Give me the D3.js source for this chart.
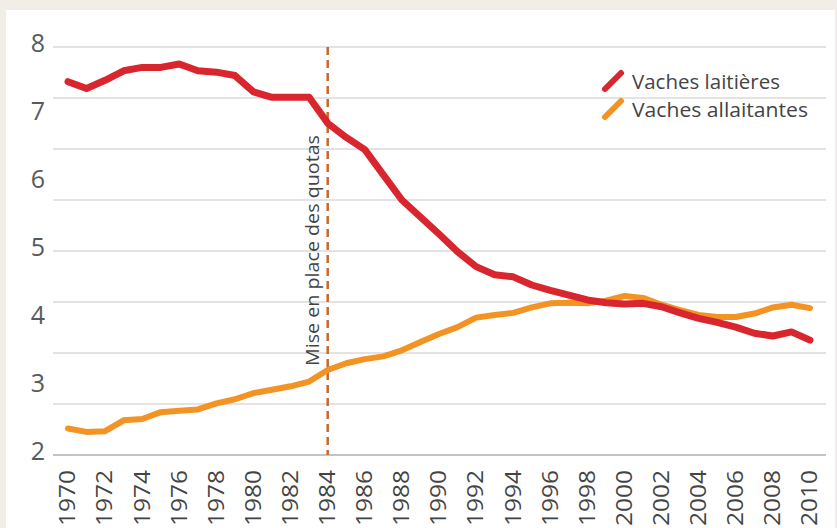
<!DOCTYPE html>
<html>
<head>
<meta charset="utf-8">
<script src="https://cdn.jsdelivr.net/npm/d3@7"></script>
<style>
  body { margin: 0; background: #f2eee7; }
  svg text { font-family: "Open Sans", "DejaVu Sans", sans-serif; }
</style>
</head>
<body>
<svg id="chart" width="837" height="528"></svg>
<script>
// data (millions of cows)
const years = d3.range(1970, 2011);
const laitieres = [7.49, 7.39, 7.51, 7.65, 7.70, 7.70, 7.75, 7.65, 7.63, 7.58,
  7.34, 7.26, 7.26, 7.26, 6.88, 6.67, 6.49, 6.12, 5.75, 5.50,
  5.25, 4.99, 4.77, 4.65, 4.62, 4.50, 4.42, 4.35, 4.28, 4.24,
  4.22, 4.23, 4.18, 4.09, 4.01, 3.95, 3.88, 3.79, 3.75, 3.81, 3.69];
const allaitantes = [2.39, 2.34, 2.35, 2.51, 2.53, 2.63, 2.65, 2.67, 2.76, 2.82,
  2.91, 2.96, 3.01, 3.08, 3.25, 3.35, 3.41, 3.45, 3.54, 3.66,
  3.78, 3.88, 4.02, 4.06, 4.09, 4.17, 4.23, 4.24, 4.23, 4.27,
  4.34, 4.31, 4.21, 4.13, 4.06, 4.03, 4.03, 4.08, 4.17, 4.21, 4.16];
const yLabels = [2, 3, 4, 5, 6, 7, 8];
const gridValues = [2, 2.75, 3.5, 4.25, 5, 5.75, 6.5, 7.25, 8];
const xTicks = d3.range(1970, 2011, 2);
const quotaYear = 1984;
const series = [
  { name: "Vaches laitières", values: laitieres, color: "#d9262e", width: 7 },
  { name: "Vaches allaitantes", values: allaitantes, color: "#f39324", width: 6 }
];

const svg = d3.select("#chart");

// white panel
svg.append("rect")
  .attr("x", 6).attr("y", 10)
  .attr("width", 829).attr("height", 520)
  .attr("fill", "#fff");

const x = d3.scaleLinear().domain([1970, 2010]).range([68, 810]);
const y = d3.scaleLinear().domain([2, 8]).range([455, 47]);

// gridlines
svg.append("g")
  .selectAll("line")
  .data(gridValues)
  .enter().append("line")
  .attr("x1", 53).attr("x2", 826)
  .attr("y1", d => y(d)).attr("y2", d => y(d))
  .attr("stroke", d => d === 2 ? "#888" : "#c8c8c8")
  .attr("stroke-width", 1.2);

// y labels
svg.append("g")
  .selectAll("text")
  .data(yLabels)
  .enter().append("text")
  .attr("x", 38)
  .attr("y", d => y(d) - 4)
  .attr("dy", "0.35em")
  .attr("text-anchor", "middle")
  .attr("font-size", 25)
  .attr("fill", "#5a5a5a")
  .text(d => d);

// x labels, rotated
svg.append("g")
  .selectAll("text")
  .data(xTicks)
  .enter().append("text")
  .attr("transform", d => "translate(" + x(d) + ",470) rotate(-90)")
  .attr("dy", "0.35em")
  .attr("text-anchor", "end")
  .attr("font-size", 21)
  .attr("textLength", 56)
  .attr("lengthAdjust", "spacingAndGlyphs")
  .attr("fill", "#444")
  .text(d => d);

// quota line
svg.append("line")
  .attr("x1", x(quotaYear)).attr("x2", x(quotaYear))
  .attr("y1", y(8)).attr("y2", y(2))
  .attr("stroke", "#c8692c")
  .attr("stroke-width", 2.5)
  .attr("stroke-dasharray", "8,5");

svg.append("text")
  .attr("transform", "translate(" + (x(quotaYear) - 15) + ",366) rotate(-90)")
  .attr("dy", "0.35em")
  .attr("font-size", 19)
  .attr("textLength", 231)
  .attr("lengthAdjust", "spacingAndGlyphs")
  .attr("fill", "#444")
  .text("Mise en place des quotas");

// lines
const line = d3.line()
  .x((d, i) => x(years[i]))
  .y(d => y(d));

svg.append("g")
  .selectAll("path")
  .data(series.slice().reverse())
  .enter().append("path")
  .attr("d", d => line(d.values))
  .attr("fill", "none")
  .attr("stroke", d => d.color)
  .attr("stroke-width", d => d.width)
  .attr("stroke-linejoin", "round")
  .attr("stroke-linecap", "round");

// legend
const legend = svg.append("g")
  .selectAll("g")
  .data(series)
  .enter().append("g")
  .attr("transform", (d, i) => "translate(605," + (82 + i * 28) + ")");

legend.append("line")
  .attr("x1", 0).attr("y1", 7)
  .attr("x2", 16).attr("y2", -9)
  .attr("stroke", d => d.color)
  .attr("stroke-width", 6)
  .attr("stroke-linecap", "round");

legend.append("text")
  .attr("x", 27)
  .attr("dy", "0.35em")
  .attr("font-size", 20)
  .attr("textLength", (d, i) => i === 0 ? 148 : 176)
  .attr("lengthAdjust", "spacingAndGlyphs")
  .attr("fill", "#444")
  .text(d => d.name);
</script>
</body>
</html>
